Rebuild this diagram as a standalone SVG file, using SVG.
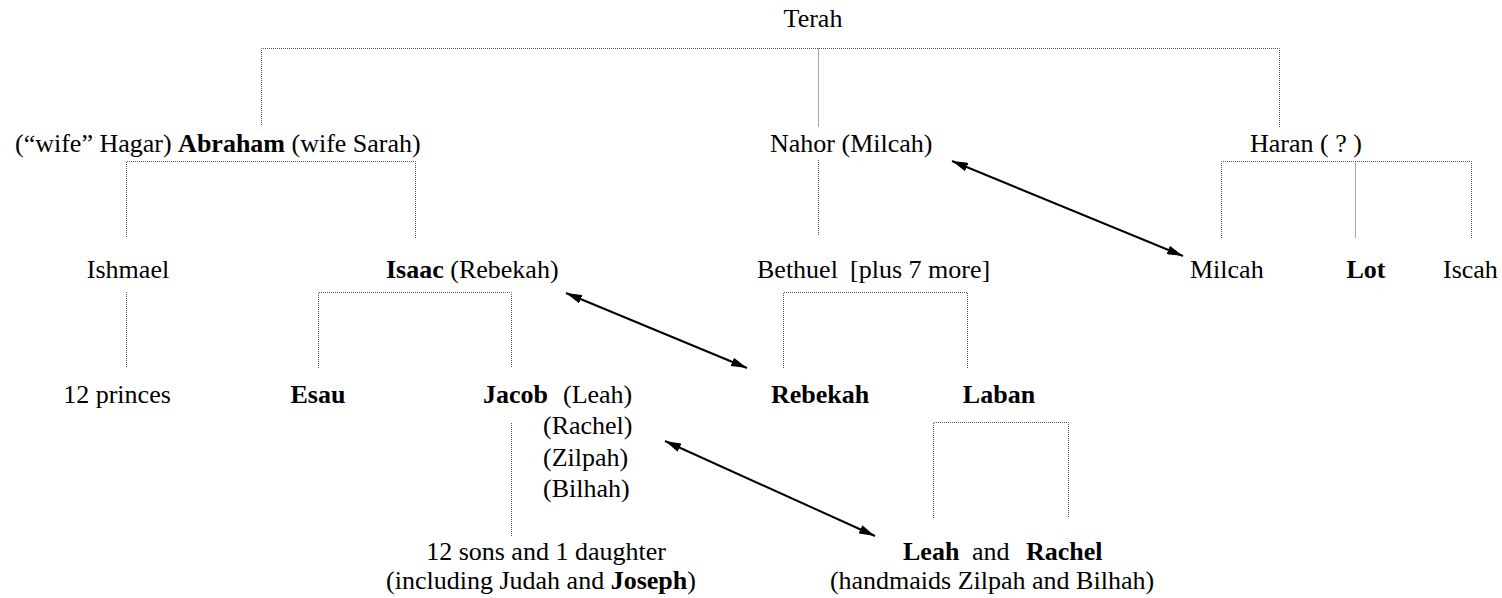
<svg xmlns="http://www.w3.org/2000/svg" width="1502" height="598" viewBox="0 0 1502 598">
<defs>
<style>
.b{font-weight:bold}
.t{font-family:'Liberation Serif',serif;font-size:26px}
.dot{fill:none;stroke:#555;stroke-width:1;stroke-dasharray:1,1}
.arr{fill:none;stroke:#000;stroke-width:2;marker-start:url(#ah);marker-end:url(#ah)}
</style>
<marker id="ah" viewBox="0 0 16 9" refX="16" refY="4.5" markerUnits="userSpaceOnUse" markerWidth="16" markerHeight="9" orient="auto-start-reverse">
<path d="M0,0 L16,4.5 L0,9 z" fill="#000"/>
</marker>
</defs>
<rect width="1502" height="598" fill="#fff"/>
<g id="connectors">
<path class="dot" d="M261.5,125 V48.5 H1279.5 V127 M818.5,48.5 V127"/>
<path class="dot" d="M126.5,237 V161.5 H415.5 V238"/>
<path class="dot" d="M818.5,160 V236"/>
<path class="dot" d="M1221.5,238 V161.5 H1471.5 V238 M1355.5,161.5 V238"/>
<path class="dot" d="M126.5,292 V368"/>
<path class="dot" d="M318.5,368 V292.5 H511.5 V368"/>
<path class="dot" d="M783.5,368 V292.5 H967.5 V368"/>
<path class="dot" d="M933.5,518 V422.5 H1068.5 V518"/>
<path class="dot" d="M511.5,423 V536"/>
<path class="arr" d="M952,161 L1183,256"/>
<path class="arr" d="M566,293 L747,368"/>
<path class="arr" d="M665,441 L875,536"/>
</g>
<g id="terah"><text class="t" font-family="'Liberation Serif', serif" font-size="26" x="813" y="27" text-anchor="middle">Terah</text></g>
<g id="abraham"><text class="t" font-family="'Liberation Serif', serif" font-size="26" x="15" y="152">(“wife” Hagar) <tspan class="b">Abraham</tspan> (wife Sarah)</text></g>
<g id="nahor"><text class="t" font-family="'Liberation Serif', serif" font-size="26" x="770" y="152">Nahor (Milcah)</text></g>
<g id="haran"><text class="t" font-family="'Liberation Serif', serif" font-size="26" x="1250" y="152">Haran ( ? )</text></g>
<g id="ishmael"><text class="t" font-family="'Liberation Serif', serif" font-size="26" x="128" y="278" text-anchor="middle">Ishmael</text></g>
<g id="isaac"><text class="t" font-family="'Liberation Serif', serif" font-size="26" x="386" y="278"><tspan class="b">Isaac</tspan> (Rebekah)</text></g>
<g id="bethuel"><text class="t" font-family="'Liberation Serif', serif" font-size="26" x="757" y="278">Bethuel</text><text class="t" font-family="'Liberation Serif', serif" font-size="26" x="850" y="278">[plus 7 more]</text></g>
<g id="milcah"><text class="t" font-family="'Liberation Serif', serif" font-size="26" x="1190" y="278">Milcah</text></g>
<g id="lot"><text class="t b" font-family="'Liberation Serif', serif" font-size="26" x="1366" y="278" text-anchor="middle">Lot</text></g>
<g id="iscah"><text class="t" font-family="'Liberation Serif', serif" font-size="26" x="1443" y="278">Iscah</text></g>
<g id="princes"><text class="t" font-family="'Liberation Serif', serif" font-size="26" x="117" y="403" text-anchor="middle">12 princes</text></g>
<g id="esau"><text class="t b" font-family="'Liberation Serif', serif" font-size="26" x="318" y="403" text-anchor="middle">Esau</text></g>
<g id="jacob">
<text class="t b" font-family="'Liberation Serif', serif" font-size="26" x="483" y="403">Jacob</text>
<text class="t" font-family="'Liberation Serif', serif" font-size="26" x="563" y="403">(Leah)</text>
<text class="t" font-family="'Liberation Serif', serif" font-size="26" x="543" y="434">(Rachel)</text>
<text class="t" font-family="'Liberation Serif', serif" font-size="26" x="543" y="466">(Zilpah)</text>
<text class="t" font-family="'Liberation Serif', serif" font-size="26" x="543" y="497">(Bilhah)</text>
</g>
<g id="rebekah"><text class="t b" font-family="'Liberation Serif', serif" font-size="26" x="820" y="403" text-anchor="middle">Rebekah</text></g>
<g id="laban"><text class="t b" font-family="'Liberation Serif', serif" font-size="26" x="999" y="403" text-anchor="middle">Laban</text></g>
<g id="sons">
<text class="t" font-family="'Liberation Serif', serif" font-size="26" x="546" y="560" text-anchor="middle">12 sons and 1 daughter</text>
<text class="t" font-family="'Liberation Serif', serif" font-size="26" x="541" y="589" text-anchor="middle">(including Judah and <tspan class="b">Joseph</tspan>)</text>
</g>
<g id="leahrachel">
<text class="t b" font-family="'Liberation Serif', serif" font-size="26" x="903" y="560">Leah</text>
<text class="t" font-family="'Liberation Serif', serif" font-size="26" x="972" y="560">and</text>
<text class="t b" font-family="'Liberation Serif', serif" font-size="26" x="1026" y="560">Rachel</text>
<text class="t" font-family="'Liberation Serif', serif" font-size="26" x="992" y="589" text-anchor="middle">(handmaids Zilpah and Bilhah)</text>
</g>
</svg>
